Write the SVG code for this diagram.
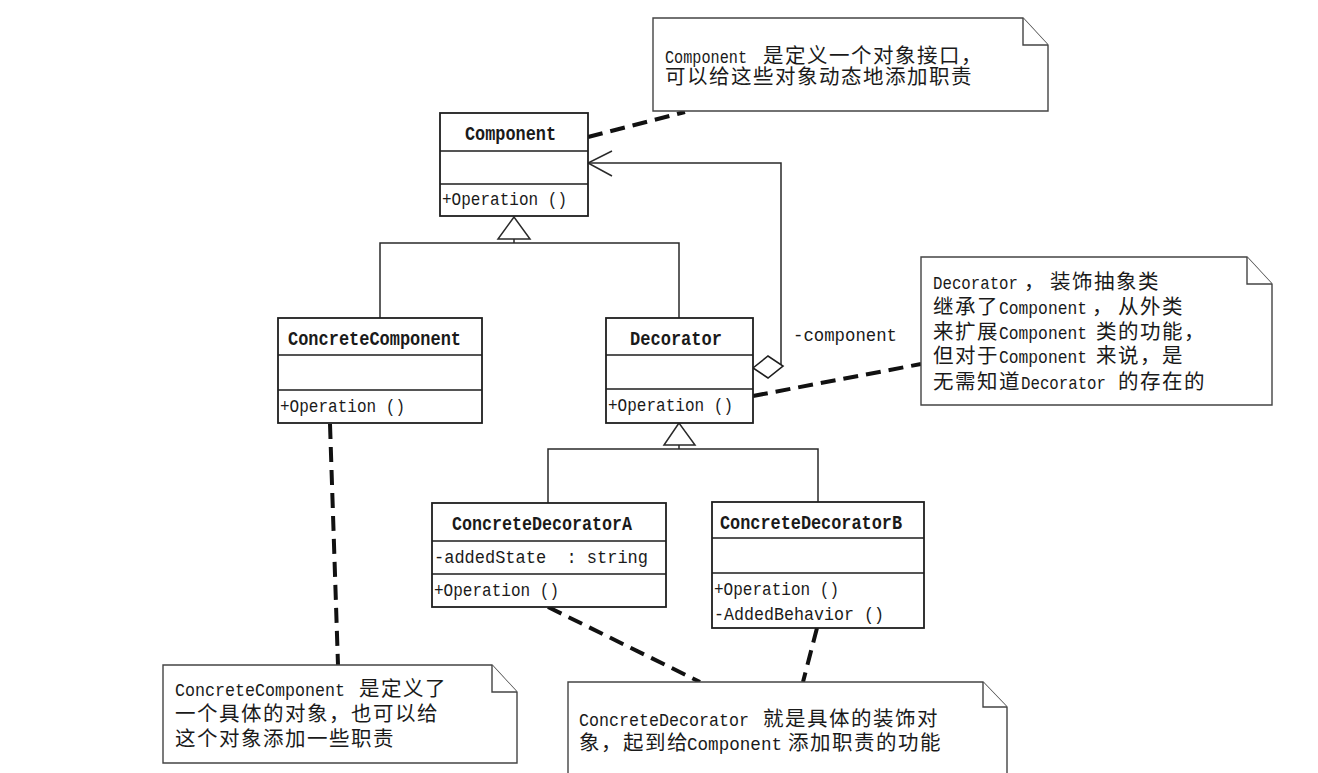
<svg xmlns="http://www.w3.org/2000/svg" width="1318" height="773" viewBox="0 0 1318 773">
<style>
.box{fill:#fff;stroke:#1e1e1e;stroke-width:1.8}
.sep{stroke:#1e1e1e;stroke-width:1.6}
.ln{fill:none;stroke:#2a2a2a;stroke-width:1.5}
.dash{fill:none;stroke:#111;stroke-width:4;stroke-dasharray:15 8}
.note{fill:#fff;stroke:#444;stroke-width:1.4}
.t{font-family:"Liberation Mono",monospace;font-size:19px;fill:#1a1a1a}
.b{font-weight:bold;font-size:20px}
.c{font-family:"Noto Sans CJK SC","Noto Sans CJK JP",sans-serif;font-size:20.5px;letter-spacing:1.5px;fill:#1a1a1a}
</style>
<rect width="1318" height="773" fill="#fff"/>

<g id="connectors">
  <path class="ln" d="M514 217 L498 239 H530 Z"/>
  <path class="ln" d="M514 239 V243 M380 318 V243 H679 V318"/>
  <path class="ln" d="M679 423 L664 445 H695 Z"/>
  <path class="ln" d="M679 445 V449 M548 503 V449 H818 V502"/>
  <path class="ln" d="M588 163 H781 V366"/>
  <path class="ln" d="M612 151 L588 163 L612 176"/>
  <path d="M753 368 L768 356 L783 366 L768 378 Z" fill="#fff" stroke="#1e1e1e" stroke-width="1.6"/>
  <text class="t" x="793" y="341" textLength="104" lengthAdjust="spacingAndGlyphs">-component</text>
  <path class="dash" d="M588 137 L685 112"/>
  <path class="dash" d="M753 396 L921 364"/>
  <path class="dash" d="M330 424 L338 665"/>
  <path class="dash" d="M548 607 L700 682"/>
  <path class="dash" d="M817 628 L803 682"/>
</g>

<g id="Component">
  <rect class="box" x="440" y="113" width="148" height="103"/>
  <path class="sep" d="M440 151 H588 M440 184 H588"/>
  <text class="t b" x="465" y="140" textLength="91" lengthAdjust="spacingAndGlyphs">Component</text>
  <text class="t" x="442" y="205" textLength="125" lengthAdjust="spacingAndGlyphs">+Operation ()</text>
</g>

<g id="ConcreteComponent">
  <rect class="box" x="278" y="318" width="204" height="105"/>
  <path class="sep" d="M278 355 H482 M278 390 H482"/>
  <text class="t b" x="288" y="345" textLength="173" lengthAdjust="spacingAndGlyphs">ConcreteComponent</text>
  <text class="t" x="280" y="412" textLength="125" lengthAdjust="spacingAndGlyphs">+Operation ()</text>
</g>

<g id="Decorator">
  <rect class="box" x="606" y="318" width="147" height="105"/>
  <path class="sep" d="M606 355 H753 M606 389 H753"/>
  <text class="t b" x="630" y="345" textLength="92" lengthAdjust="spacingAndGlyphs">Decorator</text>
  <text class="t" x="608" y="411" textLength="125" lengthAdjust="spacingAndGlyphs">+Operation ()</text>
</g>

<g id="ConcreteDecoratorA">
  <rect class="box" x="432" y="503" width="234" height="104"/>
  <path class="sep" d="M432 541 H666 M432 574 H666"/>
  <text class="t b" x="452" y="530" textLength="180" lengthAdjust="spacingAndGlyphs">ConcreteDecoratorA</text>
  <text class="t" x="434" y="563" textLength="214" lengthAdjust="spacingAndGlyphs" xml:space="preserve">-addedState  : string</text>
  <text class="t" x="434" y="596" textLength="125" lengthAdjust="spacingAndGlyphs">+Operation ()</text>
</g>

<g id="ConcreteDecoratorB">
  <rect class="box" x="712" y="502" width="212" height="126"/>
  <path class="sep" d="M712 538 H924 M712 573 H924"/>
  <text class="t b" x="720" y="529" textLength="182" lengthAdjust="spacingAndGlyphs">ConcreteDecoratorB</text>
  <text class="t" x="714" y="595" textLength="125" lengthAdjust="spacingAndGlyphs">+Operation ()</text>
  <text class="t" x="714" y="620" textLength="170" lengthAdjust="spacingAndGlyphs">-AddedBehavior ()</text>
</g>

<g id="note-component">
  <path class="note" d="M653 18 H1023 L1048 45 V111 H653 Z"/>
  <path class="note" d="M1023 18 V45 H1048"/>
  <text class="t" x="665" y="63" textLength="82" lengthAdjust="spacingAndGlyphs">Component</text>
  <text class="c" x="763" y="63">是定义一个对象接口，</text>
  <text class="c" x="665" y="84">可以给这些对象动态地添加职责</text>
</g>

<g id="note-decorator">
  <path class="note" d="M921 257 H1247 L1272 284 V405 H921 Z"/>
  <path class="note" d="M1247 257 V284 H1272"/>
  <text class="t" x="933" y="289" textLength="85" lengthAdjust="spacingAndGlyphs">Decorator</text>
  <text class="c" x="1024" y="289">，</text>
  <text class="c" x="1050" y="289">装饰抽象类</text>
  <text class="c" x="933" y="314">继承了</text>
  <text class="t" x="999" y="314" textLength="88" lengthAdjust="spacingAndGlyphs">Component</text>
  <text class="c" x="1092" y="314">，</text>
  <text class="c" x="1118" y="314">从外类</text>
  <text class="c" x="933" y="339">来扩展</text>
  <text class="t" x="999" y="339" textLength="88" lengthAdjust="spacingAndGlyphs">Component</text>
  <text class="c" x="1096" y="339">类的功能，</text>
  <text class="c" x="933" y="363">但对于</text>
  <text class="t" x="999" y="363" textLength="88" lengthAdjust="spacingAndGlyphs">Component</text>
  <text class="c" x="1096" y="363">来说，是</text>
  <text class="c" x="933" y="389">无需知道</text>
  <text class="t" x="1021" y="389" textLength="85" lengthAdjust="spacingAndGlyphs">Decorator</text>
  <text class="c" x="1118" y="389">的存在的</text>
</g>

<g id="note-concretecomponent">
  <path class="note" d="M163 665 H492 L517 692 V763 H163 Z"/>
  <path class="note" d="M492 665 V692 H517"/>
  <text class="t" x="175" y="696" textLength="170" lengthAdjust="spacingAndGlyphs">ConcreteComponent</text>
  <text class="c" x="359" y="696">是定义了</text>
  <text class="c" x="175" y="721">一个具体的对象，也可以给</text>
  <text class="c" x="175" y="746">这个对象添加一些职责</text>
</g>

<g id="note-concretedecorator">
  <path class="note" d="M568 682 H983 L1007 707 V780 H568 Z"/>
  <path class="note" d="M983 682 V707 H1007"/>
  <text class="t" x="579" y="726" textLength="170" lengthAdjust="spacingAndGlyphs">ConcreteDecorator</text>
  <text class="c" x="763" y="726">就是具体的装饰对</text>
  <text class="c" x="579" y="750">象，起到给</text>
  <text class="t" x="687" y="750" textLength="95" lengthAdjust="spacingAndGlyphs">Component</text>
  <text class="c" x="788" y="750">添加职责的功能</text>
</g>
</svg>
